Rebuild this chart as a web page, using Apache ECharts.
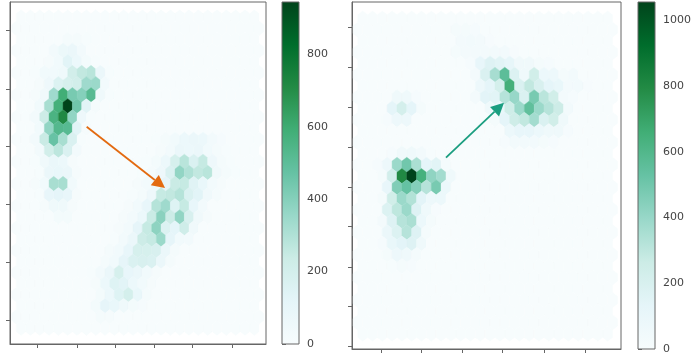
<!DOCTYPE html>
<html>
<head>
<meta charset="utf-8">
<style>
html,body{margin:0;padding:0;background:#fff;}
#chart{width:694px;height:358px;filter:blur(0.5px);}
</style>
<script src="https://cdn.jsdelivr.net/npm/echarts@6/dist/echarts.min.js"></script>
</head>
<body>
<div id="chart"></div>
<script>
// hexbin counts, one line per hex row from the top, index = column
var leftCounts = [
    [],
    [],
    [0,0,0,0,0,20,20,5],
    [0,0,0,0,30,75,80,30],
    [0,0,0,15,40,130,70,25,5],
    [0,0,5,40,40,55,210,260,280,80,5],
    [0,0,15,60,160,190,210,340,350,30],
    [0,0,15,45,340,590,430,400,520,55,5],
    [0,0,40,320,580,945,450,130,20],
    [0,0,30,230,560,720,370,60,5],
    [0,0,40,370,530,520,130,15],
    [0,0,30,240,470,320,170,5,0,0,0,0,0,0,0,5,20,40,70,80,70,30,10],
    [0,0,30,210,270,170,30,0,0,0,0,0,0,0,0,15,30,80,70,80,40,20,5],
    [0,0,5,45,85,70,15,0,0,0,0,0,0,0,5,25,70,190,280,170,250,60,20,5],
    [0,0,5,80,90,80,15,0,0,0,0,0,0,5,20,60,170,370,300,260,280,45,20,5],
    [0,0,15,40,320,320,40,0,0,0,0,0,0,15,30,60,110,240,250,140,90,35,15],
    [0,0,5,100,120,100,15,0,0,0,0,0,5,20,60,250,260,290,170,130,45,20],
    [0,0,0,15,55,55,15,0,0,0,0,0,15,40,100,290,340,150,250,100,30],
    [0,0,0,0,25,25,0,0,0,0,0,15,30,70,240,390,230,370,180,45,15],
    [0,0,0,0,0,0,0,0,0,0,0,15,35,110,250,380,160,120,220,45],
    [0,0,0,0,0,0,0,0,0,0,5,30,80,230,250,350,110,40,35],
    [0,0,0,0,0,0,0,0,0,0,20,40,100,190,190,180,80,20],
    [0,0,0,0,0,0,0,0,0,20,40,110,170,180,170,80,20],
    [0,0,0,0,0,0,0,0,5,30,80,190,100,80,40,15],
    [0,0,0,0,0,0,0,0,15,70,150,130,70,40,15],
    [0,0,0,0,0,0,0,0,0,25,70,150,200,90,20],
    [0,0,0,0,0,0,0,0,25,110,90,50,25,10],
    [0,0,0,0,0,0,0,0,0,20,15],
    []
];
var rightCounts = [
    [],
    [0,0,0,0,0,0,0,0,0,0,20,25,15],
    [0,0,0,0,0,0,0,0,0,0,30,35,30,10],
    [0,0,0,0,0,0,0,0,0,0,20,30,30,30,35,35,10],
    [0,0,0,0,0,0,0,0,0,0,0,15,110,170,150,120,50,50,20,15],
    [0,0,0,0,0,0,0,0,0,0,0,0,30,190,360,560,180,60,240,80,70,25,35],
    [0,0,0,0,0,0,0,0,0,0,0,0,70,130,220,650,190,290,200,130,100,30,35,10],
    [0,0,0,0,55,55,15,0,0,0,0,0,30,140,150,320,400,190,480,310,240,30,15],
    [0,0,0,130,220,130,20,0,0,0,0,0,0,60,100,250,390,550,390,320,260,35],
    [0,0,0,15,70,70,0,0,0,0,0,0,0,0,25,130,250,290,370,190,240,60],
    [0,0,0,0,0,0,0,0,0,0,0,0,0,0,0,80,110,110,80,60,60,15],
    [0,0,0,0,0,0,0,0,0,0,0,0,0,0,0,15,40,40,35,20,15],
    [0,0,0,15,50,60,40,5],
    [0,0,15,70,390,500,350,130,150,20],
    [0,0,20,230,800,1055,640,420,370,60],
    [0,0,0,110,460,530,450,320,480,80],
    [0,0,20,240,390,330,140,70,80],
    [0,0,0,180,300,390,170,60,10],
    [0,0,30,170,320,350,80,20],
    [0,0,0,90,180,320,170,25],
    [0,0,15,100,140,170,60],
    [0,0,0,25,70,60,25],
    [0,0,0,5,20,15],
    [],
    [],
    [],
    [],
    [],
    []
];
var leftMax = 945;
var rightMax = 1055;
var leftBarTicks = [0,200,400,600,800];
var rightBarTicks = [0,200,400,600,800,1000];

// axis ticks have no labels in the picture, values are in hex columns / hex rows
var leftXTicks = [2.2,6.5,10.6,14.75,18.8,23.1];
var leftYTicks = [1.15,6.47,11.6,16.83,22.1,27.28];
var rightXTicks = [2.37,6.45,10.63,14.7,19,23.2];
var rightYTicks = [0.76,4.32,7.87,11.42,14.97,18.5,22.08,25.55,29.1];

// x0,y0,x1,y1 in the same units
var leftArrow = [7.53,9.86,15.93,15.39];
var rightArrow = [9,12.37,14.92,7.49];

var BuGn = ['#f7fcfd','#e5f5f9','#ccece6','#99d8c9','#66c2a4','#41ae76','#238b45','#006d2c','#00441b'];
var lineColor = '#666';
var textColor = '#444';

function toCells(counts) {
    var cells = [];
    for (var t = 0; t < counts.length; t++) {
        // odd rows have one more column, even rows sit half a column in
        var n = t % 2 ? 27 : 26;
        for (var c = 0; c < n; c++) {
            cells.push([t % 2 ? c : c + 0.5, t, counts[t][c] || 0]);
        }
    }
    return cells;
}

function renderHex(params, api) {
    var p = api.coord([api.value(0), api.value(1)]);
    var s = api.size([1, 1]);
    var w = s[0] / 2, h = s[1] * 2 / 3;
    var color = api.visual('color');
    return {
        type: 'polygon',
        shape: {points: [
            [p[0], p[1] - h], [p[0] + w, p[1] - h / 2], [p[0] + w, p[1] + h / 2],
            [p[0], p[1] + h], [p[0] - w, p[1] + h / 2], [p[0] - w, p[1] - h / 2]
        ]},
        style: {fill: color, stroke: color, lineWidth: 0.4}
    };
}

function renderArrow(params, api) {
    var a = api.coord([api.value(0), api.value(1)]);
    var b = api.coord([api.value(2), api.value(3)]);
    var color = api.value(4);
    var ang = Math.atan2(b[1] - a[1], b[0] - a[0]);
    var len = 13, half = 6.5;
    var bx = b[0] - len * Math.cos(ang), by = b[1] - len * Math.sin(ang);
    var nx = -Math.sin(ang) * half, ny = Math.cos(ang) * half;
    return {
        type: 'group',
        children: [
            {type: 'line', shape: {x1: a[0], y1: a[1], x2: bx, y2: by}, style: {stroke: color, lineWidth: 1.8}},
            {type: 'polygon', shape: {points: [[b[0], b[1]], [bx + nx, by + ny], [bx - nx, by - ny]]}, style: {fill: color}}
        ]
    };
}

// colorbar strip, gradient runs over the whole count range
function renderBar(params, api) {
    var top = api.coord([0, api.value(0)]);
    var bottom = api.coord([1, 0]);
    var stops = [];
    for (var i = 0; i < BuGn.length; i++) {
        stops.push({offset: 1 - i / (BuGn.length - 1), color: BuGn[i]});
    }
    return {
        type: 'rect',
        shape: {x: top[0], y: top[1], width: bottom[0] - top[0], height: bottom[1] - top[1]},
        style: {fill: new echarts.graphic.LinearGradient(0, 0, 0, 1, stops)}
    };
}

function plotAxis(gridIndex, min, max, ticks, pos, inverse) {
    return {
        type: 'value', gridIndex: gridIndex, min: min, max: max, inverse: !!inverse, position: pos,
        axisLine: {show: true, onZero: false, lineStyle: {color: lineColor}},
        axisTick: {show: true, length: 4, customValues: ticks, lineStyle: {color: lineColor}},
        axisLabel: {show: false},
        splitLine: {show: false}
    };
}

function barYAxis(gridIndex, max, ticks) {
    return {
        type: 'value', gridIndex: gridIndex, min: 0, max: max, position: 'right',
        axisLine: {show: false},
        axisTick: {show: true, length: 4, customValues: ticks, lineStyle: {color: lineColor}},
        axisLabel: {
            show: true, customValues: ticks, color: textColor, fontSize: 11, margin: 8, fontFamily: 'DejaVu Sans',
            formatter: function (v) { return String(v); }
        },
        splitLine: {show: false}
    };
}

var gridBox = {show: true, borderColor: lineColor, borderWidth: 1, backgroundColor: 'transparent', z: 10};

var option = {
    animation: false,
    backgroundColor: '#fff',
    grid: [
        Object.assign({left: 10, top: 2, width: 256, height: 342}, gridBox),
        Object.assign({left: 282, top: 2, width: 17, height: 342}, gridBox),
        Object.assign({left: 352, top: 2, width: 269, height: 347}, gridBox),
        Object.assign({left: 638, top: 2, width: 17, height: 347}, gridBox)
    ],
    xAxis: [
        plotAxis(0, -0.686, 26.75, leftXTicks, 'bottom'),
        {type: 'value', gridIndex: 1, min: 0, max: 1, show: false},
        plotAxis(2, -0.59, 26.86, rightXTicks, 'bottom'),
        {type: 'value', gridIndex: 3, min: 0, max: 1, show: false}
    ],
    yAxis: [
        plotAxis(0, -1.375, 29.44, leftYTicks, 'left', true),
        barYAxis(1, leftMax, leftBarTicks),
        plotAxis(2, -1.456, 29.36, rightYTicks, 'left', true),
        barYAxis(3, rightMax, rightBarTicks)
    ],
    visualMap: [
        {type: 'continuous', show: false, seriesIndex: 0, dimension: 2, min: 0, max: leftMax, inRange: {color: BuGn}},
        {type: 'continuous', show: false, seriesIndex: 1, dimension: 2, min: 0, max: rightMax, inRange: {color: BuGn}}
    ],
    series: [
        {type: 'custom', xAxisIndex: 0, yAxisIndex: 0, renderItem: renderHex, data: toCells(leftCounts), silent: true, clip: true},
        {type: 'custom', xAxisIndex: 2, yAxisIndex: 2, renderItem: renderHex, data: toCells(rightCounts), silent: true, clip: true},
        {type: 'custom', xAxisIndex: 0, yAxisIndex: 0, renderItem: renderArrow, z: 5, silent: true,
            data: [leftArrow.concat(['#e36a10'])], encode: {x: [0, 2], y: [1, 3]}},
        {type: 'custom', xAxisIndex: 2, yAxisIndex: 2, renderItem: renderArrow, z: 5, silent: true,
            data: [rightArrow.concat(['#1b9e80'])], encode: {x: [0, 2], y: [1, 3]}},
        {type: 'custom', xAxisIndex: 1, yAxisIndex: 1, renderItem: renderBar, silent: true,
            data: [[leftMax]], encode: {y: 0}},
        {type: 'custom', xAxisIndex: 3, yAxisIndex: 3, renderItem: renderBar, silent: true,
            data: [[rightMax]], encode: {y: 0}}
    ]
};

var chart = echarts.init(document.getElementById('chart'));
chart.setOption(option);
</script>
</body>
</html>
